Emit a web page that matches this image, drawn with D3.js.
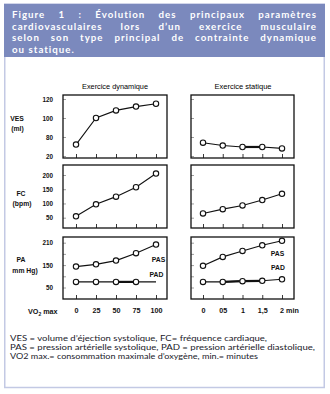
<!DOCTYPE html>
<html><head><meta charset="utf-8">
<script src="https://cdn.jsdelivr.net/npm/d3@7"></script>
<style>html,body{margin:0;padding:0;background:#fff}svg{display:block}</style>
</head><body>
<script>
// ---- data ----
const dynX = [0, 25, 50, 75, 100];
const statX = [0, 0.5, 1, 1.5, 2];
const dynXLabels = ["0", "25", "50", "75", "100"];
const statXLabels = ["0", "05", "1", "1,5", "2 min"];
const vesDyn = [72, 100, 108, 112, 115];
const vesStat = [74, 71, 69.5, 69.5, 68];
const fcDyn = [55, 97, 124, 157, 205];
const fcStat = [65, 80, 93, 112, 134];
const pasDyn = [146, 152, 162, 182, 205];
const padDyn = [105, 105, 105, 105, 105];
const pasStat = [148, 172, 188, 203, 215];
const padStat = [105, 105, 107, 108, 112];
const vesTicks = [60, 80, 100, 120];
const vesTickLabels = ["20", "80", "100", "120"];
const fcTicks = [50, 100, 150, 200];
const fcTickLabels = ["50", "100", "150", "200"];
const paTicks = [90, 120, 150, 180, 210];
const paTickLabels = ["50", "", "150", "", "210"];
const titleLines = [
  "Figure 1 : Évolution des principaux paramètres",
  "cardiovasculaires lors d’un exercice musculaire",
  "selon son type principal de contrainte dynamique",
  "ou statique."
];
const noteLines = [
  "VES = volume d’éjection systolique, FC= fréquence cardiaque,",
  "PAS = pression artérielle systolique, PAD = pression artérielle diastolique,",
  "VO2 max.= consommation maximale d’oxygène, min.= minutes"
];

const W = 330, H = 394;
const svg = d3.select("body").append("svg").attr("width", W).attr("height", H);

// frame + header band
svg.append("rect").attr("x", 4.75).attr("y", 4).attr("width", 319.5).attr("height", 383.5)
  .attr("fill", "#fff").attr("stroke", "#c3c9e4").attr("stroke-width", 1.5);
svg.append("rect").attr("x", 4).attr("y", 4).attr("width", 321).attr("height", 53).attr("fill", "#7b89bd");

// justified title
const tg = svg.append("g").attr("font-family", "Lato, 'Open Sans', sans-serif").attr("font-weight", 700)
  .attr("font-size", 9.7).attr("letter-spacing", 1.0).attr("fill", "#fff");
const baselines = [17.8, 29.5, 41.2, 52.9];
titleLines.forEach((line, li) => {
  const words = line.split(" ");
  const x0 = 12, x1 = 317;
  const nodes = words.map(w => tg.append("text").attr("y", baselines[li]).text(w));
  const widths = nodes.map(n => n.node().getComputedTextLength());
  const sum = d3.sum(widths);
  const justify = li < titleLines.length - 1;
  const gap = justify ? (x1 - x0 - sum) / (words.length - 1) : 3.5;
  let x = x0;
  nodes.forEach((n, i) => { n.attr("x", x); x += widths[i] + gap; });
});

// panels
const cols = [
  {x0: 63, x1: 167, range: [76, 156], domain: [0, 100], xs: dynX, labels: dynXLabels, title: "Exercice dynamique", tx: 115, tl: 66},
  {x0: 191, x1: 294, range: [203, 282], domain: [0, 2], xs: statX, labels: statXLabels, title: "Exercice statique", tx: 243, tl: 57}
];
const rows = [
  {y0: 95, y1: 158, domain: [60, 120], range: [156, 99], ticks: vesTicks, tlabels: vesTickLabels,
   lab: [["VES", 17, 120.5], ["(ml)", 17.5, 130.5]], series: [[vesDyn], [vesStat]]},
  {y0: 165, y1: 228, domain: [50, 200], range: [217.7, 175], ticks: fcTicks, tlabels: fcTickLabels,
   lab: [["FC", 21, 195.5], ["(bpm)", 22, 205.5]], series: [[fcDyn], [fcStat]]},
  {y0: 237, y1: 299, domain: [90, 210], range: [287.5, 242.7], ticks: paTicks, tlabels: paTickLabels,
   lab: [["PA", 21, 261.5], ["mm Hg)", 25, 272.5]], series: [[pasDyn, padDyn], [pasStat, padStat]]}
];
const thick = {"0-0-0": [], "0-1-0": [2], "2-0-1": [2], "2-1-1": [1, 2]};
const hiddenMarkers = {"2-0-1": [4]};
const seriesLabels = [
  [["PAS", 158.5, 261.5], ["PAD", 156.5, 277]],
  [["PAS", 277.5, 256], ["PAD", 278, 270]]
];

cols.forEach((c, ci) => {
  svg.append("text").attr("x", c.tx).attr("y", 89).attr("text-anchor", "middle")
    .attr("font-family", "'Liberation Sans', Arial, sans-serif").attr("font-size", 7.6)
    .attr("textLength", c.tl).attr("lengthAdjust", "spacingAndGlyphs").text(c.title);
});

rows.forEach((r, ri) => {
  r.lab.forEach(([t, x, y]) => svg.append("text").attr("x", x).attr("y", y).attr("text-anchor", "middle")
    .attr("font-family", "'Liberation Sans', Arial, sans-serif").attr("font-weight", 700)
    .attr("font-size", 6.8).attr("fill", "#111").text(t));
  cols.forEach((c, ci) => {
    const x = d3.scaleLinear().domain(c.domain).range(c.range);
    const y = d3.scaleLinear().domain(r.domain).range(r.range);
    const g = svg.append("g");
    // y axis
    const ya = d3.axisLeft(y).tickValues(r.ticks).tickSize(-3).tickPadding(10)
      .tickFormat((d, i) => ci === 0 ? r.tlabels[i] : "");
    const yg = g.append("g").attr("transform", `translate(${c.x0},0)`).call(ya);
    yg.select(".domain").remove();
    yg.selectAll("line").attr("stroke", "#888").attr("stroke-width", 0.8);
    yg.selectAll("text").attr("font-family", "'Liberation Sans', Arial, sans-serif")
      .attr("font-weight", 700).attr("font-size", 6.3).attr("fill", "#111").attr("dy", "0.35em");
    // x axis
    const xa = d3.axisBottom(x).tickValues(c.xs).tickSize(-4).tickPadding(9)
      .tickFormat((d, i) => ri === 2 ? c.labels[i] : "");
    const xg = g.append("g").attr("transform", `translate(0,${r.y1})`).call(xa);
    xg.select(".domain").remove();
    xg.selectAll("line").attr("stroke", "#222").attr("stroke-width", 0.9);
    xg.selectAll("text").attr("font-family", "'Liberation Sans', Arial, sans-serif")
      .attr("font-weight", 700).attr("font-size", 7.2).attr("fill", "#111");
    if (ci === 1 && ri === 2) {
      xg.selectAll("text").filter((d, i) => i === 4).attr("text-anchor", "start").attr("dx", -2.5);
    }
    // box
    g.append("rect").attr("x", c.x0).attr("y", r.y0).attr("width", c.x1 - c.x0).attr("height", r.y1 - r.y0)
      .attr("fill", "none").attr("stroke", "#111").attr("stroke-width", 1.3);
    // series
    r.series[ci].forEach((vals, si) => {
      const pts = vals.map((v, i) => [x(c.xs[i]), y(v)]);
      const key = `${ri}-${ci}-${si}`;
      g.append("path").attr("d", d3.line()(pts)).attr("fill", "none").attr("stroke", "#111").attr("stroke-width", 1.1);
      (thick[key] || []).forEach(k => {
        g.append("path").attr("d", d3.line()([pts[k], pts[k + 1]])).attr("stroke", "#111").attr("stroke-width", 2.2);
      });
      const hid = hiddenMarkers[key] || [];
      g.selectAll(null).data(pts.filter((p, i) => !hid.includes(i))).join("circle")
        .attr("cx", d => d[0]).attr("cy", d => d[1]).attr("r", 2.7)
        .attr("fill", "#fff").attr("stroke", "#111").attr("stroke-width", 1.1);
    });
    if (ri === 2) {
      seriesLabels[ci].forEach(([t, lx, ly]) => g.append("text").attr("x", lx).attr("y", ly)
        .attr("text-anchor", "middle").attr("font-family", "'Liberation Sans', Arial, sans-serif")
        .attr("font-weight", 700).attr("font-size", 6.8).attr("fill", "#111").text(t));
    }
  });
});

// VO2 max label
const vt = svg.append("text").attr("x", 28).attr("y", 314)
  .attr("font-family", "'Liberation Sans', Arial, sans-serif").attr("font-weight", 700)
  .attr("font-size", 7.2).attr("fill", "#111");
vt.append("tspan").text("VO");
vt.append("tspan").attr("font-size", 5).attr("dy", 1.8).text("2");
vt.append("tspan").attr("dy", -1.8).text(" max");

// footnote
const nl = [257, 305, 248];
noteLines.forEach((t, i) => svg.append("text").attr("x", 10).attr("y", 340.5 + i * 9.3)
  .attr("font-family", "Lato, 'Open Sans', sans-serif").attr("font-size", 7.7).attr("fill", "#1a1a2a")
  .attr("textLength", nl[i]).attr("lengthAdjust", "spacingAndGlyphs").text(t));
</script>
</body></html>
